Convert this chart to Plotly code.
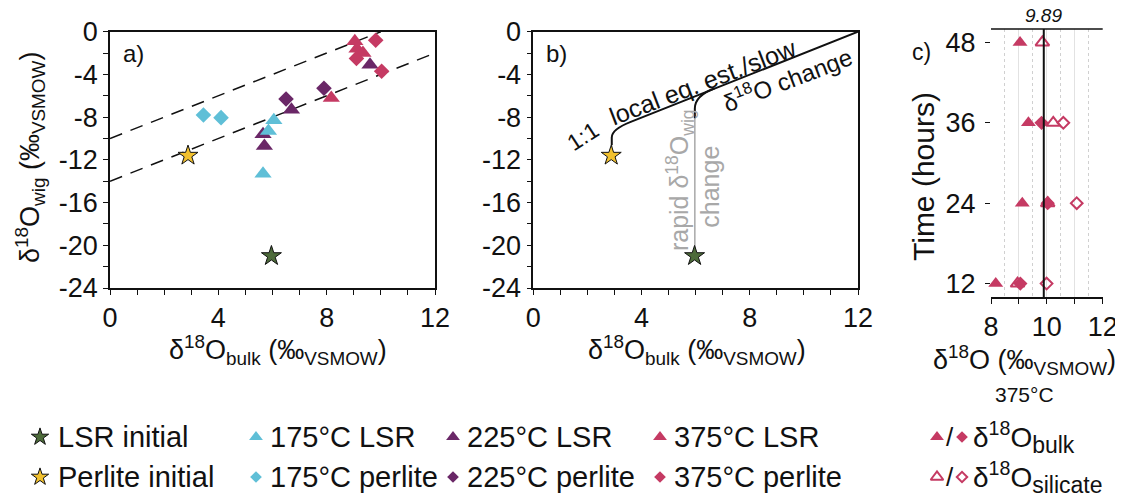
import plotly.graph_objects as go

# page body has an 8px margin, so the figure is sized to fit the window
OFF = 8
W, H = 1123 - OFF, 496 - OFF
FONT = "Liberation Sans, Arial, sans-serif"

# ---------------- data (panel a) ----------------
lsr_init_x = [5.96];  lsr_init_y = [-21.0]
per_init_x = [2.88];  per_init_y = [-11.6]
lsr175_x = [5.65, 5.85, 6.05];        lsr175_y = [-13.3, -9.3, -8.3]
per175_x = [3.45, 4.10];              per175_y = [-7.8, -8.05]
lsr225_x = [5.70, 5.65, 6.70, 9.60];  lsr225_y = [-10.7, -9.6, -7.3, -3.1]
per225_x = [6.50, 7.90];              per225_y = [-6.3, -5.3]
lsr375_x = [8.17, 9.04, 9.12, 9.34];  lsr375_y = [-6.2, -0.9, -1.6, -2.0]
per375_x = [9.81, 10.03, 9.10];       per375_y = [-0.8, -3.7, -2.5]
dash_offsets = [-10, -14]   # y = x + offset

# ---------------- data (panel c, 375 C) ----------------
c_bulk_tri_t = [48, 36, 24, 12];  c_bulk_tri_x = [9.04, 9.34, 9.12, 8.17]
c_bulk_dia_t = [36, 24, 12];      c_bulk_dia_x = [9.81, 10.03, 9.05]
c_sil_tri_t = [48, 36, 24, 12];   c_sil_tri_x = [9.84, 10.23, 10.03, 8.95]
c_sil_dia_t = [36, 24, 12];       c_sil_dia_x = [10.59, 11.07, 9.99]
mean_375 = 9.89

# ---------------- styles ----------------
GREEN = "#4d6b3a"; YELLOW = "#f2c12e"
CYAN = "#5fbfd7"; PURPLE = "#6a2767"; PINK = "#c53a63"
GRAY = "#a8a8a8"; INK = "#111"

def px_x(p): return (p - OFF) / W
def px_y(p): return 1 - (p - OFF) / H

fig = go.Figure()

def add_pts(x, y, sym, color, size, xa, ya, line=None):
    fig.add_trace(go.Scatter(
        x=x, y=y, mode="markers", xaxis=xa, yaxis=ya, hoverinfo="skip", cliponaxis=False,
        marker=dict(symbol=sym, color=color, size=size,
                    line=line if line else dict(width=0))))

TRI, DIA, STAR = 15, 12, 15
star_line = dict(width=1, color=INK)
# panel a
add_pts(per175_x, per175_y, "diamond", CYAN, DIA, "x", "y")
add_pts(lsr225_x, lsr225_y, "triangle-up", PURPLE, TRI, "x", "y")
add_pts(lsr175_x, lsr175_y, "triangle-up", CYAN, TRI, "x", "y")
add_pts(per225_x, per225_y, "diamond", PURPLE, DIA, "x", "y")
add_pts(lsr375_x, lsr375_y, "triangle-up", PINK, TRI, "x", "y")
add_pts(per375_x, per375_y, "diamond", PINK, DIA, "x", "y")
add_pts(lsr_init_x, lsr_init_y, "star", GREEN, STAR, "x", "y", star_line)
add_pts(per_init_x, per_init_y, "star", YELLOW, STAR, "x", "y", star_line)

# panel b
add_pts(lsr_init_x, lsr_init_y, "star", GREEN, STAR, "x2", "y2", star_line)
add_pts(per_init_x, per_init_y, "star", YELLOW, STAR, "x2", "y2", star_line)

# panel c
add_pts(c_bulk_tri_x, c_bulk_tri_t, "triangle-up", PINK, 13, "x3", "y3")
add_pts(c_bulk_dia_x, c_bulk_dia_t, "diamond", PINK, 11, "x3", "y3")
add_pts(c_sil_tri_x, c_sil_tri_t, "triangle-up-open", PINK, 12, "x3", "y3", dict(width=2, color=PINK))
add_pts(c_sil_dia_x, c_sil_dia_t, "diamond-open", PINK, 9, "x3", "y3", dict(width=2, color=PINK))

# ---------------- legend (drawn on a pixel overlay axis) ----------------
leg_rows = [437, 477]
leg_cols = [40, 256, 453, 660]
leg_gap = [16, 12, 12, 12]
leg_items = [
    ("star", GREEN, "LSR initial"), ("triangle-up", CYAN, "175°C LSR"),
    ("triangle-up", PURPLE, "225°C LSR"), ("triangle-up", PINK, "375°C LSR"),
    ("star", YELLOW, "Perlite initial"), ("diamond", CYAN, "175°C perlite"),
    ("diamond", PURPLE, "225°C perlite"), ("diamond", PINK, "375°C perlite"),
]
LEGF = 29
annos = []
for i, (sym, col, lab) in enumerate(leg_items):
    r, c = divmod(i, 4)
    size = {"star": 13, "triangle-up": 12, "diamond": 9}[sym]
    fig.add_trace(go.Scatter(x=[leg_cols[c]], y=[leg_rows[r]], mode="markers",
                             xaxis="x4", yaxis="y4", hoverinfo="skip",
                             marker=dict(symbol=sym, color=col, size=size,
                                         line=star_line if sym == "star" else dict(width=0))))
    annos.append(dict(x=leg_cols[c] + leg_gap[c], y=leg_rows[r], xref="x4", yref="y4",
                      text=lab, showarrow=False, xanchor="left", yanchor="middle",
                      font=dict(size=LEGF, color=INK, family=FONT)))

# bulk / silicate key
key_x = [937, 962]
fig.add_trace(go.Scatter(x=[key_x[0]], y=[leg_rows[0]], mode="markers", xaxis="x4", yaxis="y4",
                         hoverinfo="skip", marker=dict(symbol="triangle-up", color=PINK, size=12)))
fig.add_trace(go.Scatter(x=[key_x[1]], y=[leg_rows[0]], mode="markers", xaxis="x4", yaxis="y4",
                         hoverinfo="skip", marker=dict(symbol="diamond", color=PINK, size=9)))
fig.add_trace(go.Scatter(x=[key_x[0]], y=[leg_rows[1]], mode="markers", xaxis="x4", yaxis="y4",
                         hoverinfo="skip", marker=dict(symbol="triangle-up-open", color=PINK, size=11,
                                                       line=dict(width=2, color=PINK))))
fig.add_trace(go.Scatter(x=[key_x[1]], y=[leg_rows[1]], mode="markers", xaxis="x4", yaxis="y4",
                         hoverinfo="skip", marker=dict(symbol="diamond-open", color=PINK, size=8,
                                                       line=dict(width=2, color=PINK))))
key_labels = ["δ<sup>18</sup>O<sub><span style='font-size:23px'>bulk</span></sub>",
              "δ<sup>18</sup>O<sub><span style='font-size:23px'>silicate</span></sub>"]
for r, lab in zip(leg_rows, key_labels):
    annos.append(dict(x=(key_x[0] + key_x[1]) / 2, y=r, xref="x4", yref="y4", text="/",
                      xanchor="center", yanchor="middle",
                      showarrow=False, font=dict(size=26, color=INK, family=FONT)))
    annos.append(dict(x=key_x[1] + 9, y=r, xref="x4", yref="y4", text=lab, showarrow=False,
                      xanchor="left", yanchor="middle", font=dict(size=28, color=INK, family=FONT)))

# ---------------- shapes ----------------
shapes = []
for off in dash_offsets:
    x0 = 0; x1 = min(12, -off)
    shapes.append(dict(type="line", xref="x", yref="y", x0=x0, y0=x0 + off, x1=x1, y1=x1 + off,
                       line=dict(color=INK, width=1.5, dash="13px,9px"), layer="below"))
# panel b schematic paths
shapes.append(dict(type="path", xref="x2", yref="y2",
                   path="M 12,0 L 3.6,-8.45 Q 2.9,-9.15 2.9,-9.9 L 2.9,-10.6",
                   line=dict(color=INK, width=2)))
shapes.append(dict(type="line", xref="x2", yref="y2", x0=2.9, y0=-10.6, x1=2.9, y1=-11.5,
                   line=dict(color=GRAY, width=1.5), layer="below"))
shapes.append(dict(type="path", xref="x2", yref="y2",
                   path="M 6.7,-5.3 Q 5.97,-6.0 5.97,-7.2 L 5.97,-8.1",
                   line=dict(color=INK, width=2)))
shapes.append(dict(type="line", xref="x2", yref="y2", x0=5.97, y0=-8.1, x1=5.97, y1=-20.8,
                   line=dict(color=GRAY, width=1.5), layer="below"))
# panel c: mean line and top border
shapes.append(dict(type="line", xref="x3", yref="y3 domain", x0=mean_375, x1=mean_375, y0=0, y1=1,
                   line=dict(color=INK, width=2)))
shapes.append(dict(type="line", xref="x3 domain", yref="y3 domain", x0=0, x1=1, y0=1, y1=1,
                   line=dict(color=INK, width=1.5)))

# ---------------- annotations ----------------
def ann(x, y, text, size, xref="paper", yref="paper", angle=0, color=INK, **kw):
    d = dict(x=x, y=y, xref=xref, yref=yref, text=text, showarrow=False, textangle=angle,
             xanchor="center", yanchor="middle", font=dict(size=size, color=color, family=FONT))
    d.update(kw)
    return d

ttl = "δ<sup>18</sup>O<sub>bulk</sub> (‰<sub>VSMOW</sub>)"
annos += [
    ann(px_x(278), px_y(350), ttl, 27),
    ann(px_x(697), px_y(350), ttl, 27),
    ann(px_x(30), px_y(158), "δ<sup>18</sup>O<sub>wig</sub> (‰<sub>VSMOW</sub>)", 27, angle=-90),
    ann(0.85, -2.0, "a)", 24, "x", "y"),
    ann(0.86, -2.0, "b)", 24, "x2", "y2"),
    ann(1.85, -9.8, "1:1", 23, "x2", "y2", angle=-33),
    ann(6.26, -4.75, "local eq. est./slow", 25, "x2", "y2", angle=-21),
    ann(9.36, -4.4, "δ<sup>18</sup>O change", 24, "x2", "y2", angle=-21),
    ann(5.42, -13.9, "rapid δ<sup>18</sup>O<sub>wig</sub>", 25, "x2", "y2", angle=-90, color=GRAY),
    ann(6.5, -14.5, "change", 25, "x2", "y2", angle=-90, color=GRAY),
    ann(mean_375, px_y(15), "<i>9.89</i>", 19, "x3", "paper"),
    ann(px_x(922), px_y(52), "c)", 23),
    ann(px_x(923), px_y(177), "Time (hours)", 30, angle=-90),
    ann(px_x(1024), px_y(360), "δ<sup>18</sup>O (‰<sub>VSMOW</sub>)", 27),
    ann(px_x(1024), px_y(394), "375°C", 21),
]

# ---------------- axes ----------------
xt = list(range(0, 13)); xl = [str(v) if v % 4 == 0 else "" for v in xt]
yt = list(range(-24, 1, 2)); yl = [str(v) if v % 4 == 0 else "" for v in yt]
tickfont = dict(size=27, color=INK, family=FONT)
common = dict(showline=True, linecolor=INK, linewidth=1.5, mirror=True, ticks="outside",
              ticklen=5, tickwidth=1.2, tickcolor=INK, showgrid=False, zeroline=False,
              tickfont=tickfont, fixedrange=True)
ydom = [px_y(288), px_y(31.7)]
layout_axes = dict(
    xaxis=dict(domain=[px_x(110), px_x(435)], range=[0, 12], tickvals=xt, ticktext=xl,
               anchor="y", **common),
    yaxis=dict(domain=ydom, range=[-24, 0], tickvals=yt, ticktext=yl, anchor="x", **common),
    xaxis2=dict(domain=[px_x(533.3), px_x(858)], range=[0, 12], tickvals=xt, ticktext=xl,
                anchor="y2", **common),
    yaxis2=dict(domain=ydom, range=[-24, 0], tickvals=yt, ticktext=yl, anchor="x2", **common),
    xaxis3=dict(domain=[px_x(991), px_x(1102.7)], range=[8, 12], tickvals=[8, 9, 10, 11, 12],
                ticktext=["8", "", "10", "", "12"], anchor="y3", showline=True, linecolor=INK,
                linewidth=1.5, ticks="outside", ticklen=5, tickwidth=1.2, tickcolor=INK,
                showgrid=True, gridcolor="#e2e2e2", gridwidth=1, zeroline=False,
                minor=dict(tickvals=[8.5, 9.5, 10.5, 11.5], showgrid=True, gridcolor="#d0d0d0",
                           griddash="dot", gridwidth=1, ticks=""),
                tickfont=tickfont, fixedrange=True),
    yaxis3=dict(domain=[px_y(297), px_y(29)], range=[10, 50], tickvals=[12, 24, 36, 48],
                anchor="x3", showline=False, ticks="outside", ticklen=5, tickwidth=1.2,
                tickcolor=INK, showgrid=False, zeroline=False, tickfont=tickfont,
                ticklabelstandoff=4, fixedrange=True),
    xaxis4=dict(domain=[0, 1], range=[OFF, OFF + W], visible=False, anchor="y4", fixedrange=True),
    yaxis4=dict(domain=[0, 1], range=[OFF + H, OFF], visible=False, anchor="x4", fixedrange=True),
)

fig.update_layout(
    template="none", width=W, height=H, autosize=False,
    margin=dict(l=0, r=0, t=0, b=0), paper_bgcolor="white", plot_bgcolor="rgba(0,0,0,0)",
    showlegend=False, font=dict(family=FONT, color=INK),
    shapes=shapes, annotations=annos, **layout_axes)

fig.write_html("out.html")
